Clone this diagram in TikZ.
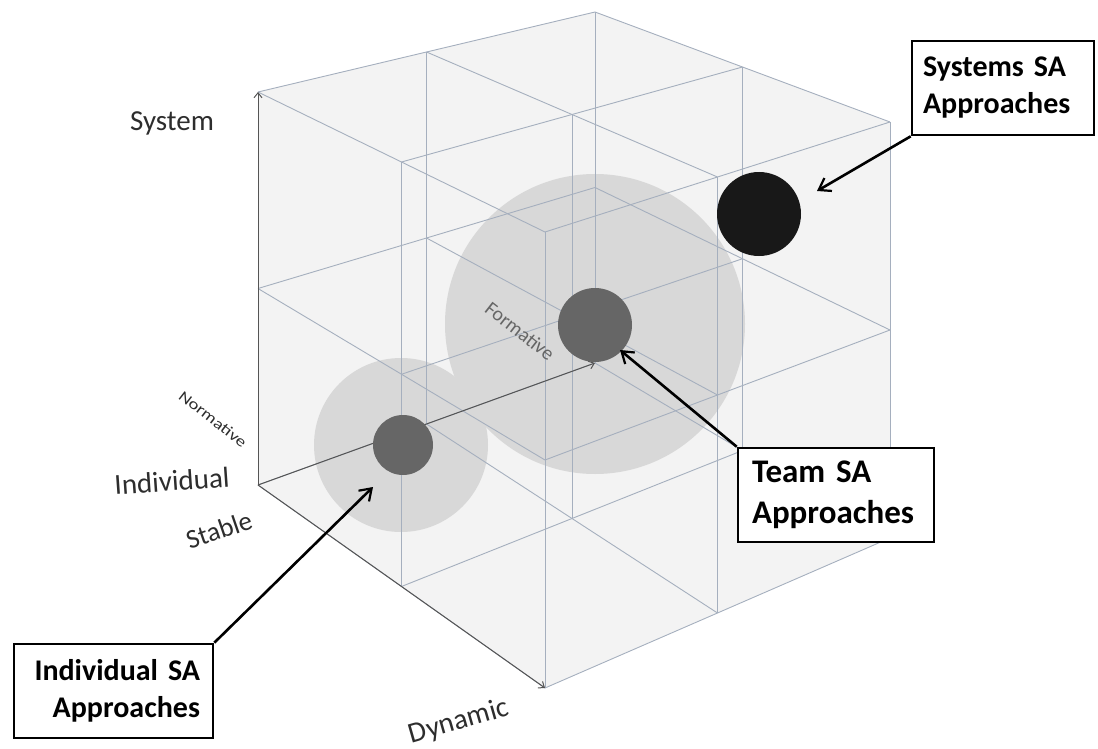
\documentclass[tikz,border=0pt]{standalone}
\usepackage{fontspec}
\setmainfont{Carlito}
\usetikzlibrary{arrows.meta}
\definecolor{gridc}{RGB}{165,175,190}
\definecolor{axisc}{RGB}{85,85,85}
\definecolor{cubefill}{RGB}{243,243,243}
\definecolor{halo}{RGB}{216,216,216}
\definecolor{dotc}{RGB}{102,102,102}
\definecolor{sysdotc}{RGB}{24,24,24}
\definecolor{labc}{RGB}{45,45,45}
\begin{document}
\begin{tikzpicture}[x=1pt,y=-1pt,
  gridline/.style={draw=gridc,line width=0.9pt},
  axisline/.style={draw=axisc,line width=1pt,-{Straight Barb[length=5pt,width=8pt]}},
  callout/.style={draw=black,line width=2.6pt,-{Straight Barb[length=11pt,width=15pt,line width=2.2pt]}},
  sabox/.style={draw=black,line width=2.6pt,fill=white,inner ysep=0pt,minimum height=94pt,font=\fontsize{30}{37}\selectfont\bfseries},
  axlabel/.style={text=labc,inner sep=0pt,font=\fontsize{29}{32}\selectfont},
  halodisc/.style={circle,fill=halo,inner sep=0pt},
  dotdisc/.style={circle,fill=dotc,inner sep=0pt}]
\useasboundingbox (0,0) rectangle (1098,749);
% grid points p<v><d><f>
\coordinate (p000) at (258,485);
\coordinate (p010) at (401.5,586.5);
\coordinate (p020) at (545,688);
\coordinate (p001) at (426.5,424);
\coordinate (p011) at (572,518.5);
\coordinate (p021) at (717.5,613);
\coordinate (p002) at (595,363);
\coordinate (p012) at (742.5,450.5);
\coordinate (p022) at (890,538);
\coordinate (p100) at (258,288.5);
\coordinate (p110) at (401.5,374.25);
\coordinate (p120) at (545,460);
\coordinate (p101) at (426.5,238);
\coordinate (p111) at (572,316.5);
\coordinate (p121) at (717.5,395);
\coordinate (p102) at (595,187.5);
\coordinate (p112) at (742.5,258.75);
\coordinate (p122) at (890,330);
\coordinate (p200) at (258,92);
\coordinate (p210) at (401.5,162);
\coordinate (p220) at (545,232);
\coordinate (p201) at (426.5,52);
\coordinate (p211) at (572,114.5);
\coordinate (p221) at (717.5,177);
\coordinate (p202) at (595,12);
\coordinate (p212) at (742.5,67);
\coordinate (p222) at (890,122);
% cube body
\fill[cubefill] (p200) -- (p202) -- (p222) -- (p022) -- (p020) -- (p000) -- cycle;
% halos
\node[halodisc,minimum size=174pt] (indhalo) at (401,445) {};
\node[halodisc,minimum size=300pt] (teamhalo) at (595,324) {};
% grid
\foreach \b in {0,1,2}{\foreach \c in {0,1,2}{\draw[gridline] (p0\b\c) -- (p2\b\c);}}
\foreach \a in {0,1,2}{\foreach \c in {0,1,2}{\draw[gridline] (p\a0\c) -- (p\a2\c);}}
\foreach \a in {0,1,2}{\foreach \b in {0,1,2}{\draw[gridline] (p\a\b0) -- (p\a\b2);}}
% axes
\draw[axisline] (p000) -- (p200);
\draw[axisline] (p000) -- (p020);
\draw[axisline] (p000) -- (p002);
% formative label (under dots)
\node[text=axisc!90,inner sep=0pt,rotate=-38,font=\fontsize{20}{22}\selectfont] (formlab) at (520,331) {Formative};
% dots
\node[dotdisc,minimum size=60pt] (inddot) at (403,445) {};
\node[dotdisc,minimum size=74pt] (teamdot) at (595,325) {};
\node[circle,fill=sysdotc,inner sep=0pt,minimum size=84pt] (sysdot) at (759,214) {};
% axis labels
\node[axlabel] (syslab) at (172,123) {System};
\node[axlabel,rotate=4] (indlab) at (172,481) {Individual};
\node[axlabel,rotate=19,font=\fontsize{27}{30}\selectfont] (stablab) at (219,530) {Stable};
\node[axlabel,rotate=16] (dynlab) at (459,722) {Dynamic};
\node[axlabel,rotate=-38,yscale=0.8,font=\fontsize{19}{21}\selectfont] (normlab) at (213,419) {Normative};
% boxes
\node[sabox,text width=160pt,inner xsep=11pt,align=left] (sysbox) at (1003,88) {Systems SA\\Approaches};
\node[sabox,text width=168pt,inner xsep=14pt,align=left,font=\fontsize{33}{41}\selectfont\bfseries] (teambox) at (836,495) {Team SA\\Approaches};
\node[sabox,text width=173pt,inner xsep=13pt,align=right] (indbox) at (113.5,691) {Individual SA\\Approaches};
% callouts
\coordinate (systip) at (817,191);
\coordinate (teamtip) at (620,350);
\coordinate (indtip) at (373,487);
\draw[callout] (sysbox.south west) -- (systip);
\draw[callout] (teambox.north west) -- (teamtip);
\draw[callout] (indbox.north east) -- (indtip);
\end{tikzpicture}
\end{document}
